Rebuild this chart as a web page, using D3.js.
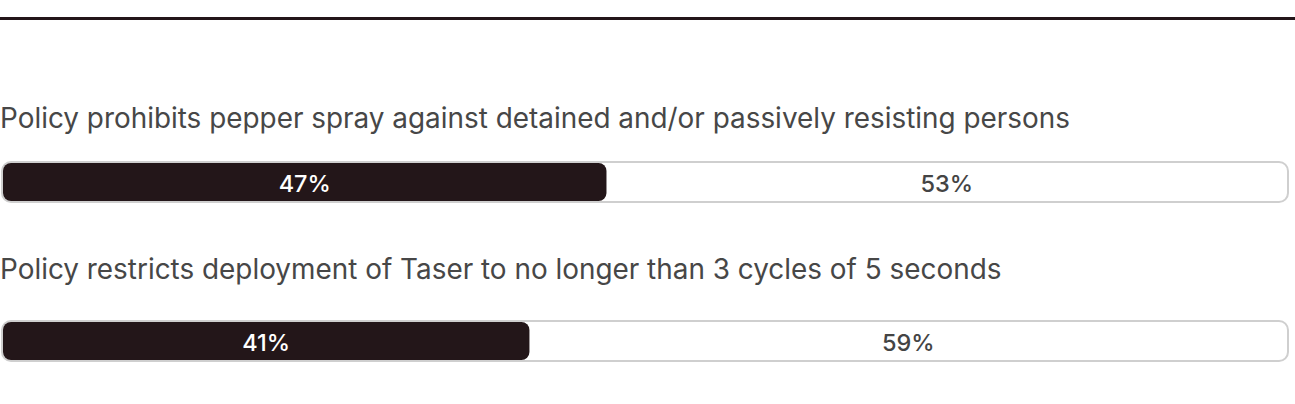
<!DOCTYPE html>
<html>
<head>
<meta charset="utf-8">
<script src="https://cdn.jsdelivr.net/npm/d3@7"></script>
<style>
  body { margin: 0; background: #fff; }
</style>
</head>
<body>
<div class="chart"></div>
<script>
var questions = [
  'Policy prohibits pepper spray against detained and/or passively resisting persons',
  'Policy restricts deployment of Taser to no longer than 3 cycles of 5 seconds'
];
var yesValues = [47, 41];
var noValues = [53, 59];

var opts = {
  width: 1295,
  height: 404,
  barLeft: 2,
  barRight: 1288,
  barH: 40,
  barTops: [162, 321],
  labelBase: [128, 279],
  dark: '#231619'
};

var rows = questions.map(function(q, i) {
  return { label: q, yes: yesValues[i], no: noValues[i], i: i };
});

var svg = d3.select('.chart').append('svg')
            .attr('width', opts.width)
            .attr('height', opts.height);

// rule at the top
svg.append('rect')
   .attr('x', 0).attr('y', 17)
   .attr('width', 1295).attr('height', 3)
   .style('fill', opts.dark);

var x = d3.scaleLinear().domain([0, 100]).range([opts.barLeft + 1, opts.barRight - 1]);

var groups = svg.selectAll('g.row')
                .data(rows)
                .enter()
                .append('g')
                .attr('class', 'row');

groups.append('text')
      .attr('x', 0)
      .attr('y', function(d) { return opts.labelBase[d.i]; })
      .style('font-family', 'Inter, sans-serif')
      .style('font-size', '27.9px')
      .style('fill', '#474747')
      .text(function(d) { return d.label; });

// track
groups.append('rect')
      .attr('x', opts.barLeft)
      .attr('y', function(d) { return opts.barTops[d.i]; })
      .attr('width', opts.barRight - opts.barLeft)
      .attr('height', opts.barH)
      .attr('rx', 9)
      .style('fill', '#fff')
      .style('stroke', '#cfcfcf')
      .style('stroke-width', 2);

// filled part
groups.append('rect')
      .attr('x', x(0))
      .attr('y', function(d) { return opts.barTops[d.i] + 1; })
      .attr('width', function(d) { return x(d.yes) - x(0); })
      .attr('height', opts.barH - 2)
      .attr('rx', 8)
      .style('fill', opts.dark);

groups.append('text')
      .attr('x', function(d) { return (x(0) + x(d.yes)) / 2; })
      .attr('y', function(d) { return opts.barTops[d.i] + 30; })
      .attr('text-anchor', 'middle')
      .style('font-family', 'Inter, sans-serif')
      .style('font-size', '23.5px')
      .style('font-weight', 500)
      .style('fill', '#fff')
      .text(function(d) { return d.yes + '%'; });

groups.append('text')
      .attr('x', function(d) { return (x(d.yes) + x(100)) / 2; })
      .attr('y', function(d) { return opts.barTops[d.i] + 30; })
      .attr('text-anchor', 'middle')
      .style('font-family', 'Inter, sans-serif')
      .style('font-size', '23.5px')
      .style('font-weight', 500)
      .style('fill', '#444')
      .text(function(d) { return d.no + '%'; });
</script>
</body>
</html>
